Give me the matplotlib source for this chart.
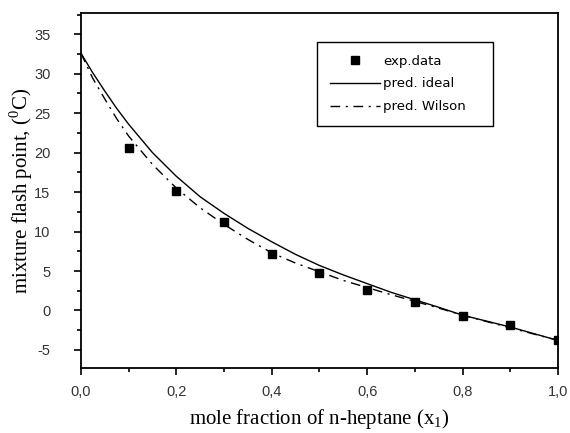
import matplotlib
matplotlib.use("Agg")
import matplotlib.pyplot as plt
from matplotlib.ticker import MultipleLocator, FuncFormatter

plt.rcParams['axes.unicode_minus'] = False

# experimental data
x_exp = [0.1, 0.2, 0.3, 0.4, 0.5, 0.6, 0.7, 0.8, 0.9, 1.0]
y_exp = [20.6, 15.2, 11.2, 7.2, 4.7, 2.6, 1.1, -0.7, -1.8, -3.8]

# predicted curves
x_pred = [0.0, 0.025, 0.05, 0.075, 0.1, 0.15, 0.2, 0.25, 0.3, 0.35, 0.4, 0.45,
          0.5, 0.55, 0.6, 0.65, 0.7, 0.75, 0.8, 0.85, 0.9, 0.95, 1.0]
y_ideal = [32.6, 30.1, 27.8, 25.6, 23.6, 20.0, 17.0, 14.4, 12.3, 10.4, 8.7, 7.1,
           5.7, 4.5, 3.4, 2.3, 1.35, 0.4, -0.6, -1.35, -2.1, -2.95, -3.8]
y_wilson = [32.6, 29.4, 26.8, 24.3, 22.1, 18.5, 15.5, 13.0, 10.9, 9.0, 7.3, 6.0,
            4.9, 3.8, 2.9, 2.0, 1.15, 0.3, -0.6, -1.4, -2.2, -3.0, -3.8]

xticks = [0.0, 0.2, 0.4, 0.6, 0.8, 1.0]
yticks = [-5, 0, 5, 10, 15, 20, 25, 30, 35]

fig = plt.figure(figsize=(5.7, 4.33), dpi=100)
ax = fig.add_axes([0.142, 0.150, 0.837, 0.820])

ax.plot(x_exp, y_exp, 's', color='black', markersize=6, label='exp.data', zorder=3)
ax.plot(x_pred, y_ideal, '-', color='black', lw=1.0, label='pred. ideal')
ax.plot(x_pred, y_wilson, '-.', color='black', lw=1.0, dashes=(7, 4, 1.5, 4), label='pred. Wilson')

ax.set_xlim(0, 1.0)
ax.set_ylim(-7.3, 37.7)
ax.set_xticks(xticks)
ax.set_yticks(yticks)
ax.xaxis.set_minor_locator(MultipleLocator(0.1))
ax.yaxis.set_minor_locator(MultipleLocator(2.5))
ax.xaxis.set_major_formatter(FuncFormatter(lambda v, p: f"{v:.1f}".replace('.', ',')))
ax.tick_params(which='both', direction='out', top=False, right=False,
               labelsize=10.5, width=1.2)
ax.tick_params(which='major', length=5)
ax.tick_params(which='minor', length=3)
ax.tick_params(axis='y', which='major', pad=17)
ax.tick_params(axis='x', which='major', pad=7)
for lab in ax.get_xticklabels() + ax.get_yticklabels():
    lab.set_family('Liberation Sans')
    lab.set_color('#333333')
for s in ax.spines.values():
    s.set_linewidth(1.3)

ax.set_xlabel('mole fraction of n-heptane (x$_\\mathregular{1}$)', family='Liberation Serif',
              fontsize=15, labelpad=6)
ax.set_ylabel('mixture flash point, ($^\\mathregular{0}$C)', family='Liberation Serif',
              fontsize=15, labelpad=-1)

leg = ax.legend(loc='lower left', bbox_to_anchor=(0.495, 0.682, 0.369, 0.236), mode='expand',
                fancybox=False, edgecolor='black', framealpha=1,
                prop={'family': 'DejaVu Sans', 'size': 9.5},
                handlelength=3.8, borderpad=0.95, handletextpad=0.25, labelspacing=0.75,
                borderaxespad=0)
leg.get_frame().set_linewidth(1.0)

fig.savefig('out.png', dpi=100)
